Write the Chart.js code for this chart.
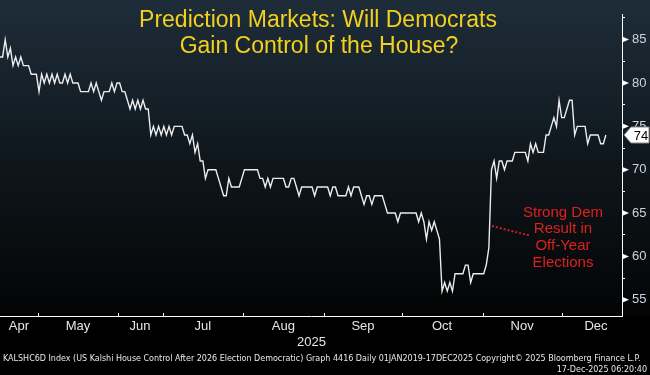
<!DOCTYPE html>
<html>
<head>
<meta charset="utf-8">
<script src="https://cdn.jsdelivr.net/npm/chart.js@4.4.1/dist/chart.umd.min.js"></script>
<style>
  html,body{ margin:0; padding:0; background:#000; }
  #c{ display:block; }
</style>
</head>
<body>
<canvas id="c" width="650" height="375"></canvas>
<script>
// KALSHC6D Index, daily, mid-Apr -> 17-Dec-2025 (one value per trading day)
const prices = [
  83,83,85,83,84,82,83,82,83,82, 82,82,81,81,81,79,81,80,81,80,
  81,80,81,80,80,81,80,81,80,80, 80,79,79,79,79,80,79,80,79,78,
  79,79,79,80,79,80,80,79,79,78, 77,78,77,78,77,78,77,77,74,75,
  74,75,74,75,74,75,74,75,75,75, 75,74,74,73,74,72,73,71,71,69,
  70,70,70,70,69,68,67,67,69,68, 68,68,68,69,70,70,70,70,70,70,
  69,69,68,69,68,69,69,69,69,69, 68,68,69,69,68,67,68,68,68,68,
  68,67,68,68,68,68,68,67,68,68, 67,67,67,67,68,67,68,68,68,67,
  66,67,67,66,67,67,67,67,66,65, 65,65,65,64,65,65,65,65,65,65,
  65,64,65,64,62,64,63,64,63,62, 56,57,56,57,56,58,58,58,58,59,
  59,57,58,58,58,58,58,59,61,70, 71,69,71,71,70,71,71,71,72,72,
  72,72,72,71,73,72,73,72,72,72, 74,74,75,76,75,78,76,76,77,78,
  78,74,75,75,75,75,73,74,74,74, 74,73,73,74
];

// x axis (in trading-day units)
const xMax = 239.2;
const monthNames   = ['Apr','May','Jun','Jul','Aug','Sep','Oct','Nov','Dec'];
const monthCenters = [7.3, 30, 53.8, 78, 109, 139.6, 170, 200.8, 229.2];
const monthStarts  = [14.5, 45.5, 62.6, 93.6, 124.7, 154.7, 185.9, 216];
const yearLabel = '2025';
const yearPos = 119.8;

// y axis
const yMin = 53.13, yMax = 87.86;
const yMajor = [55, 60, 65, 70, 75, 80, 85];
const yMinor = [57.5, 62.5, 67.5, 72.5, 77.5, 82.5, 87.5];

// texts
const titleLines = ['Prediction Markets: Will Democrats', 'Gain Control of the House?'];
const noteLines  = ['Strong Dem', 'Result in', 'Off-Year', 'Elections'];
const noteFrom = { x: 189.2, y: 63.5 };   // arrow start (on the line)
const noteTo   = { x: 203.8, y: 62.4 };
const noteText = { x: 216.5, y: 64.6 };   // first text line baseline
const footer1 = 'KALSHC6D Index (US Kalshi House Control After 2026 Election Democratic) Graph 4416 Daily 01JAN2019-17DEC2025 Copyright\u00A9 2025 Bloomberg Finance L.P.';
const footer2 = '17-Dec-2025 06:20:40';

const extras = {
  id: 'extras',
  beforeDraw(chart){
    const { ctx, chartArea: a } = chart;
    ctx.save();
    ctx.fillStyle = '#000';
    ctx.fillRect(0, 0, chart.width, chart.height);
    const g = ctx.createLinearGradient(0, 0, 0, a.bottom);
    g.addColorStop(0, '#1e2d39');
    g.addColorStop(0.5, '#0f171d');
    g.addColorStop(1, '#030404');
    ctx.fillStyle = g;
    ctx.fillRect(0, 0, chart.width, a.bottom);
    ctx.restore();
  },
  afterDraw(chart){
    const { ctx, chartArea: a, scales: { x, y } } = chart;
    ctx.save();

    // title
    ctx.fillStyle = '#f2d01e';
    ctx.font = '23px "Liberation Sans", Arial, sans-serif';
    ctx.textAlign = 'center';
    ctx.textBaseline = 'alphabetic';
    ctx.fillText(titleLines[0], 318, 27);
    ctx.fillText(titleLines[1], 319, 53);

    // annotation
    ctx.strokeStyle = '#d42020';
    ctx.lineWidth = 2;
    ctx.setLineDash([2, 2]);
    ctx.beginPath();
    ctx.moveTo(x.getPixelForValue(noteFrom.x), y.getPixelForValue(noteFrom.y));
    ctx.lineTo(x.getPixelForValue(noteTo.x), y.getPixelForValue(noteTo.y));
    ctx.stroke();
    ctx.setLineDash([]);
    ctx.fillStyle = '#e0201c';
    ctx.font = '15px "Liberation Sans", Arial, sans-serif';
    const tx = x.getPixelForValue(noteText.x);
    const ty = y.getPixelForValue(noteText.y);
    noteLines.forEach((t, i) => ctx.fillText(t, tx, ty + i * 16.8));

    // month boundary ticks (pointing up)
    ctx.strokeStyle = '#fff';
    ctx.lineWidth = 1;
    monthStarts.forEach(v => {
      const px = Math.round(x.getPixelForValue(v)) + 0.5;
      ctx.beginPath(); ctx.moveTo(px, a.bottom); ctx.lineTo(px, a.bottom - 3); ctx.stroke();
    });

    // triangles on major y ticks
    ctx.fillStyle = '#fff';
    yMajor.forEach(v => {
      const py = y.getPixelForValue(v);
      ctx.beginPath();
      ctx.moveTo(a.right, py - 3); ctx.lineTo(a.right + 7, py); ctx.lineTo(a.right, py + 3);
      ctx.closePath(); ctx.fill();
    });

    // year label
    ctx.fillStyle = '#e6e6e6';
    ctx.font = '13px "Liberation Sans", Arial, sans-serif';
    ctx.textAlign = 'center';
    ctx.fillText(yearLabel, x.getPixelForValue(yearPos), 346);

    // last value tag
    const last = prices[prices.length - 1];
    const ly = y.getPixelForValue(last);
    ctx.beginPath();
    ctx.moveTo(a.right + 2, ly);
    ctx.lineTo(a.right + 9, ly - 8);
    ctx.lineTo(chart.width - 1, ly - 8);
    ctx.lineTo(chart.width - 1, ly + 8);
    ctx.lineTo(a.right + 9, ly + 8);
    ctx.closePath();
    ctx.fillStyle = '#fff';
    ctx.fill();
    ctx.strokeStyle = '#888';
    ctx.stroke();
    ctx.fillStyle = '#000';
    ctx.font = '13px "Liberation Sans", Arial, sans-serif';
    ctx.textAlign = 'center';
    ctx.textBaseline = 'middle';
    ctx.fillText(String(last), a.right + 19, ly + 1);

    // footer
    ctx.fillStyle = '#e8e8e8';
    ctx.textBaseline = 'alphabetic';
    ctx.font = '8px "DejaVu Sans", sans-serif';
    ctx.textAlign = 'left';
    ctx.fillText(footer1, 3, 361, 644);
    ctx.textAlign = 'right';
    ctx.fillText(footer2, 647, 372, 92);

    ctx.restore();
  }
};

new Chart(document.getElementById('c'), {
  type: 'line',
  data: {
    datasets: [{
      data: prices.map((v, i) => ({ x: i, y: v })),
      borderColor: '#ececec',
      borderWidth: 1.4,
      pointRadius: 0,
      tension: 0,
      fill: false
    }]
  },
  options: {
    responsive: false,
    animation: false,
    devicePixelRatio: 1,
    layout: { padding: 0 },
    plugins: { legend: { display: false }, tooltip: { enabled: false } },
    scales: {
      x: {
        type: 'linear',
        min: 0, max: xMax,
        afterFit(s){ s.height = 59; },
        afterBuildTicks(s){ s.ticks = monthCenters.map(v => ({ value: v })); },
        grid: { display: false, drawTicks: false },
        border: { display: true, color: '#fff', width: 1 },
        ticks: {
          autoSkip: false, maxRotation: 0, padding: 3,
          color: '#e6e6e6',
          font: { family: '"Liberation Sans", Arial, sans-serif', size: 13 },
          callback: (v, i) => monthNames[i]
        }
      },
      y: {
        position: 'right',
        min: yMin, max: yMax,
        afterFit(s){ s.width = 28; },
        afterBuildTicks(s){
          s.ticks = [...yMajor, ...yMinor].sort((a, b) => a - b).map(v => ({ value: v }));
        },
        grid: { display: true, drawOnChartArea: false, drawTicks: true, tickLength: 3, color: '#fff' },
        border: { display: true, color: '#fff', width: 1 },
        ticks: {
          autoSkip: false, padding: 7,
          color: '#c9d6e2',
          font: { family: '"Liberation Sans", Arial, sans-serif', size: 13 },
          callback: v => yMajor.includes(v) ? String(v) : ''
        }
      }
    }
  },
  plugins: [extras]
});
</script>
</body>
</html>
